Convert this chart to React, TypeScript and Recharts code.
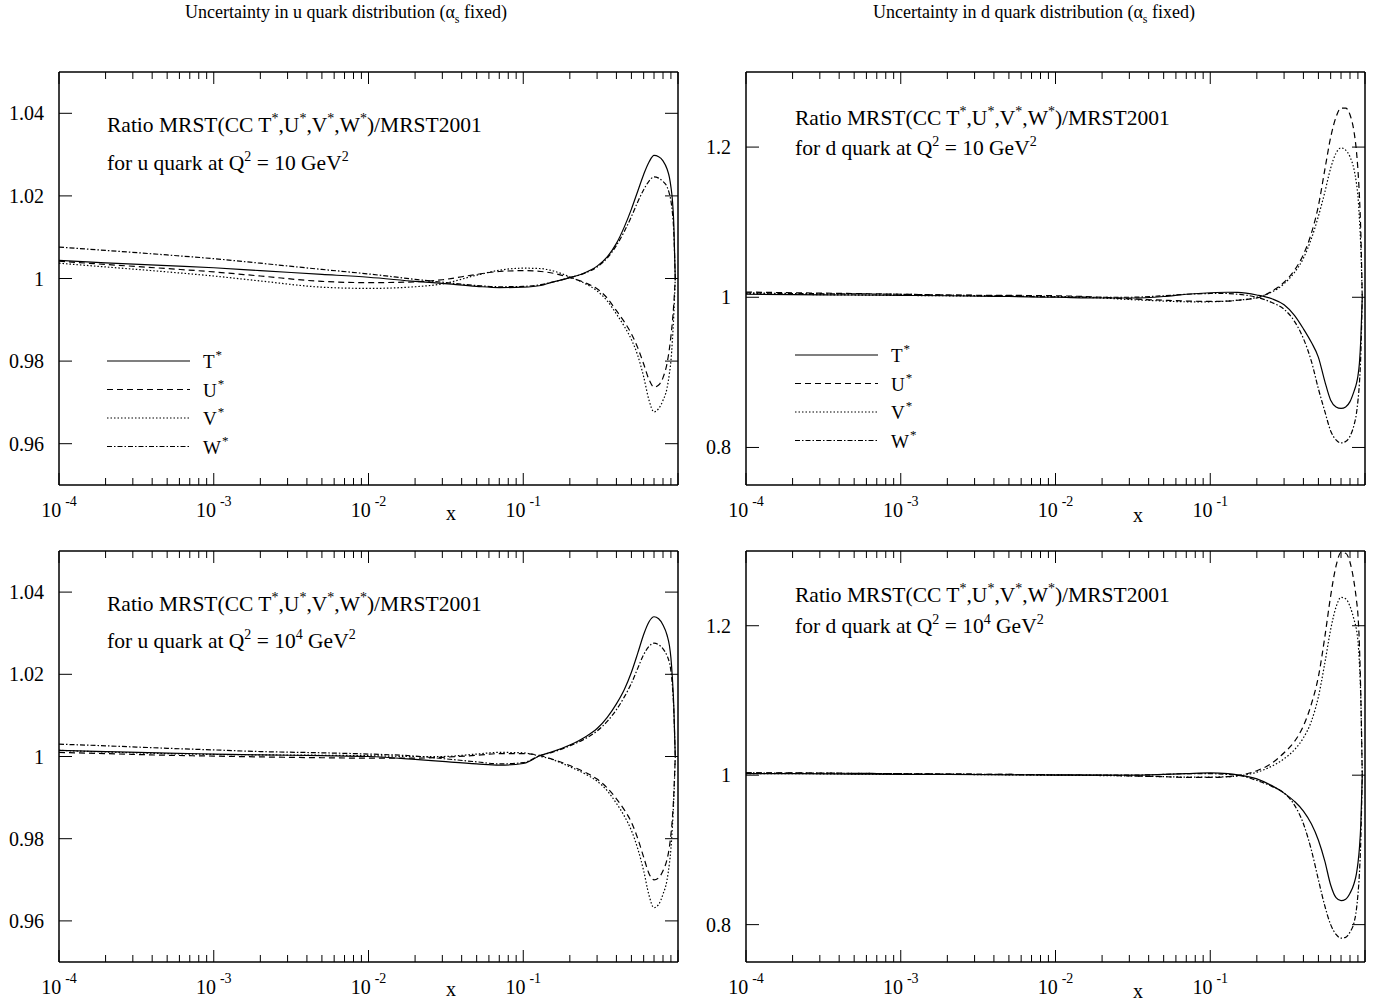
import React from "react";
import { LineChart, Line, XAxis, YAxis } from "recharts";

// x grid shared by every curve
const X = [
  0.0001, 0.0002, 0.0005, 0.001, 0.002, 0.005, 0.01, 0.02, 0.03, 0.05, 0.07,
  0.1, 0.13, 0.15, 0.2, 0.25, 0.3, 0.35, 0.4, 0.45, 0.5, 0.55, 0.6, 0.65, 0.7,
  0.75, 0.8, 0.85, 0.88, 0.9, 0.92, 0.94, 0.96,
];

// u quark, Q^2 = 10
const U10_T = [1.0044, 1.0038, 1.0031, 1.0026, 1.0019, 1.001, 1.0003, 0.9993, 0.9988, 0.9981, 0.9978, 0.9979, 0.9983, 0.999, 1.0002, 1.0014, 1.003, 1.0053, 1.0085, 1.0125, 1.0168, 1.0212, 1.0252, 1.0282, 1.0298, 1.0295, 1.0285, 1.0265, 1.0245, 1.0222, 1.019, 1.013, 1.0];
const U10_U = [1.0042, 1.0034, 1.0024, 1.0016, 1.0006, 0.9993, 0.999, 0.9992, 0.9997, 1.001, 1.0017, 1.0019, 1.0017, 1.0014, 1.0002, 0.999, 0.9975, 0.9952, 0.9922, 0.9895, 0.9866, 0.9832, 0.9793, 0.9755, 0.9737, 0.9742, 0.976, 0.9795, 0.983, 0.986, 0.9895, 0.994, 1.0];
const U10_V = [1.0037, 1.0028, 1.0016, 1.0006, 0.9994, 0.9979, 0.9976, 0.998, 0.9987, 1.0008, 1.002, 1.0025, 1.0024, 1.002, 1.0004, 0.9988, 0.997, 0.9945, 0.9914, 0.9884, 0.9852, 0.9813, 0.9762, 0.9705, 0.9677, 0.9685, 0.9705, 0.9735, 0.977, 0.98, 0.985, 0.9915, 1.0];
const U10_W = [1.0076, 1.0068, 1.0057, 1.0048, 1.0037, 1.0022, 1.0011, 0.9998, 0.9991, 0.9983, 0.998, 0.9981, 0.9985, 0.999, 1.0002, 1.0013, 1.0028, 1.005, 1.008, 1.0114, 1.015, 1.0186, 1.0215, 1.0236, 1.0246, 1.0243, 1.0235, 1.0222, 1.0205, 1.0188, 1.016, 1.011, 1.0];

// d quark, Q^2 = 10
const D10_T = [1.004, 1.0035, 1.003, 1.0025, 1.002, 1.001, 1.0, 0.999, 0.999, 1.001, 1.004, 1.006, 1.0067, 1.0065, 1.003, 0.998, 0.99, 0.976, 0.958, 0.94, 0.92, 0.888, 0.863, 0.854, 0.852, 0.854, 0.861, 0.875, 0.885, 0.895, 0.912, 0.945, 1.0];
const D10_U = [1.007, 1.006, 1.005, 1.004, 1.003, 1.0025, 1.002, 1.0, 0.998, 0.996, 0.995, 0.9945, 0.995, 0.996, 0.999, 1.008, 1.02, 1.036, 1.057, 1.085, 1.122, 1.17, 1.213, 1.24, 1.252, 1.252, 1.243, 1.22, 1.195, 1.17, 1.135, 1.085, 1.0];
const D10_V = [1.005, 1.004, 1.003, 1.0025, 1.002, 1.0015, 1.001, 0.999, 0.997, 0.995, 0.994, 0.994, 0.995, 0.996, 1.0, 1.007, 1.018, 1.033, 1.052, 1.078, 1.108, 1.14, 1.172, 1.192, 1.199, 1.196, 1.187, 1.17, 1.152, 1.135, 1.105, 1.065, 1.0];
const D10_W = [1.006, 1.005, 1.0045, 1.004, 1.003, 1.0015, 1.0005, 1.0, 1.0, 1.002, 1.004, 1.005, 1.005, 1.004, 1.0, 0.993, 0.984, 0.968, 0.945, 0.915, 0.878, 0.848, 0.822, 0.81, 0.806, 0.808, 0.815, 0.83, 0.845, 0.862, 0.885, 0.925, 1.0];

// u quark, Q^2 = 10^4
const U1E4_T = [1.0015, 1.0012, 1.0008, 1.0006, 1.0004, 1.0002, 1.0, 0.9993, 0.9988, 0.9982, 0.9979, 0.9983, 1.0003, 1.001, 1.0028, 1.0047, 1.0068, 1.0096, 1.0128, 1.0163, 1.0205, 1.0252, 1.0297, 1.0328, 1.034, 1.0335, 1.032, 1.0295, 1.027, 1.024, 1.019, 1.012, 1.0];
const U1E4_U = [1.001, 1.0007, 1.0003, 1.0001, 0.9999, 0.9997, 0.9996, 0.9996, 0.9998, 1.0003, 1.0007, 1.0007, 1.0002, 0.9995, 0.9978, 0.9962, 0.9945, 0.9923, 0.9897, 0.987, 0.984, 0.98, 0.9755, 0.9715, 0.97, 0.9705, 0.9722, 0.975, 0.978, 0.981, 0.985, 0.991, 1.0];
const U1E4_V = [1.0015, 1.0011, 1.0007, 1.0005, 1.0004, 1.0003, 1.0002, 1.0, 1.0, 1.0006, 1.001, 1.0009, 1.0, 0.9994, 0.9975, 0.9958, 0.994, 0.9916, 0.9886, 0.9855, 0.982, 0.9775, 0.9722, 0.9662, 0.9632, 0.964, 0.9665, 0.97, 0.974, 0.9775, 0.983, 0.99, 1.0];
const U1E4_W = [1.003, 1.0026, 1.002, 1.0016, 1.0012, 1.0009, 1.0006, 1.0001, 0.9995, 0.9987, 0.9982, 0.9985, 1.0003, 1.0009, 1.0026, 1.0043, 1.0062, 1.0086, 1.0114, 1.0145, 1.0178, 1.0215, 1.0248, 1.0268, 1.0276, 1.0272, 1.0262, 1.0245, 1.0228, 1.0208, 1.0172, 1.011, 1.0];

// d quark, Q^2 = 10^4
const D1E4_T = [1.002, 1.002, 1.0015, 1.001, 1.001, 1.0005, 1.0, 1.0, 1.0, 1.001, 1.002, 1.003, 1.002, 1.0005, 0.995, 0.986, 0.976, 0.965, 0.952, 0.935, 0.913, 0.885, 0.853, 0.836, 0.832, 0.834, 0.842, 0.855, 0.868, 0.882, 0.902, 0.935, 1.0];
const D1E4_U = [1.003, 1.003, 1.0025, 1.002, 1.0015, 1.001, 1.0005, 1.0, 0.999, 0.998, 0.997, 0.997, 0.998, 0.9995, 1.006, 1.016, 1.03, 1.045, 1.066, 1.095, 1.132, 1.185, 1.24, 1.28, 1.298, 1.297, 1.285, 1.258, 1.235, 1.215, 1.175, 1.105, 1.0];
const D1E4_V = [1.002, 1.002, 1.0015, 1.001, 1.001, 1.0005, 1.0, 0.9995, 0.999, 0.998, 0.9975, 0.9975, 0.998, 0.999, 1.004, 1.012, 1.022, 1.034, 1.05, 1.072, 1.105, 1.15, 1.195, 1.225, 1.238, 1.236, 1.226, 1.208, 1.195, 1.18, 1.15, 1.1, 1.0];
const D1E4_W = [1.003, 1.0028, 1.0025, 1.002, 1.0015, 1.001, 1.0005, 1.0, 1.0, 1.001, 1.002, 1.002, 1.001, 1.0, 0.993, 0.985, 0.976, 0.96, 0.935, 0.9, 0.86, 0.825, 0.8, 0.787, 0.782, 0.783, 0.79, 0.803, 0.82, 0.84, 0.868, 0.915, 1.0];

const DECADES = [1e-4, 1e-3, 1e-2, 1e-1];
const X_TICKS = [...DECADES.flatMap((d) => [1, 2, 3, 4, 5, 6, 7, 8, 9].map((m) => m * d)), 1];
const U_Y_TICKS = [0.96, 0.98, 1, 1.02, 1.04];
const D_Y_TICKS = [0.8, 1, 1.2];
const U_DOMAIN: [number, number] = [0.95, 1.05];
const D_DOMAIN: [number, number] = [0.75, 1.3];

const SERIES = [
  { key: "t", label: "T", dash: undefined },
  { key: "u", label: "U", dash: "6 4" },
  { key: "v", label: "V", dash: "1.5 2" },
  { key: "w", label: "W", dash: "5 2 1.5 2" },
];

const FONT = '"Liberation Serif", "Times New Roman", serif';
const MAJOR = 12;
const MINOR = 7;

const isMajor = (v: number) => {
  const l = Math.log10(v);
  return Math.abs(l - Math.round(l)) < 1e-6;
};

function BottomTick(props: any) {
  const { x, y, payload } = props;
  const v = payload.value;
  const major = isMajor(v);
  const exp = Math.round(Math.log10(v));
  return (
    <g>
      <line x1={x} y1={y} x2={x} y2={y - (major ? MAJOR : MINOR)} stroke="#000" />
      {major && exp < 0 && (
        <text x={x} y={y + 32} textAnchor="middle" fontSize={20} fontFamily={FONT} fill="#000">
          10
          <tspan dx={4} dy={-11} fontSize={14}>
            {exp}
          </tspan>
        </text>
      )}
    </g>
  );
}

function TopTick(props: any) {
  const { x, y, payload } = props;
  const major = isMajor(payload.value);
  return <line x1={x} y1={y} x2={x} y2={y + (major ? MAJOR : MINOR)} stroke="#000" />;
}

function LeftTick(props: any) {
  const { x, y, payload } = props;
  return (
    <g>
      <line x1={x} y1={y} x2={x + 13} y2={y} stroke="#000" />
      <text x={x - 15} y={y + 7} textAnchor="end" fontSize={20} fontFamily={FONT} fill="#000">
        {String(payload.value)}
      </text>
    </g>
  );
}

function RightTick(props: any) {
  const { x, y } = props;
  return <line x1={x} y1={y} x2={x - 13} y2={y} stroke="#000" />;
}

interface PanelProps {
  left: number;
  top: number;
  width: number;
  height: number;
  t: number[];
  u: number[];
  v: number[];
  w: number[];
  domain: [number, number];
  yTicks: number[];
}

function Panel({ left, top, width, height, t, u, v, w, domain, yTicks }: PanelProps) {
  const data = X.map((x, i) => ({ x, t: t[i], u: u[i], v: v[i], w: w[i] }));
  const axisCommon = {
    tickSize: 0,
    tickMargin: 0,
    tickLine: false,
    interval: 0 as const,
    allowDataOverflow: true,
    stroke: "#000",
    strokeWidth: 1.5,
  };
  return (
    <div style={{ position: "absolute", left: left - 60, top: top - 10 }}>
      <LineChart
        width={width + 80}
        height={height + 60}
        data={data}
        margin={{ top: 0, right: 10, bottom: 0, left: 0 }}
      >
        <XAxis
          xAxisId="b"
          dataKey="x"
          type="number"
          scale="log"
          domain={[1e-4, 1]}
          ticks={X_TICKS}
          height={50}
          tick={(p: any) => <BottomTick {...p} />}
          {...axisCommon}
        />
        <XAxis
          xAxisId="t"
          orientation="top"
          dataKey="x"
          type="number"
          scale="log"
          domain={[1e-4, 1]}
          ticks={X_TICKS}
          height={10}
          tick={(p: any) => <TopTick {...p} />}
          {...axisCommon}
        />
        <YAxis
          yAxisId="l"
          type="number"
          domain={domain}
          ticks={yTicks}
          width={60}
          tick={(p: any) => <LeftTick {...p} />}
          {...axisCommon}
        />
        <YAxis
          yAxisId="r"
          orientation="right"
          type="number"
          domain={domain}
          ticks={yTicks}
          width={10}
          tick={(p: any) => <RightTick {...p} />}
          {...axisCommon}
        />
        {SERIES.map((s) => (
          <Line
            key={s.key}
            xAxisId="b"
            yAxisId="l"
            type="monotone"
            dataKey={s.key}
            stroke="#000"
            strokeWidth={1.2}
            strokeDasharray={s.dash}
            dot={false}
            activeDot={false}
            isAnimationActive={false}
          />
        ))}
      </LineChart>
    </div>
  );
}

function Legend({ x, y }: { x: number; y: number }) {
  return (
    <g>
      {SERIES.map((s, i) => (
        <g key={s.key}>
          <line x1={x} x2={x + 83} y1={y + i * 28.5} y2={y + i * 28.5} stroke="#000" strokeWidth={1.2} strokeDasharray={s.dash} />
          <text x={x + 96} y={y + i * 28.5 + 7} fontSize={19} fontFamily={FONT}>
            {s.label}
            <tspan dx={1} dy={-9} fontSize={13}>*</tspan>
          </text>
        </g>
      ))}
    </g>
  );
}

function PanelText({ x, y, flavour, q2, gap }: { x: number; y: number; flavour: string; q2: string; gap: number }) {
  const sup = (s: string) => (
    <tspan dy={-9} fontSize={14}>{s}</tspan>
  );
  const base = (s: string) => <tspan dy={9}>{s}</tspan>;
  return (
    <g fontFamily={FONT} fontSize={21.5} fill="#000">
      <text x={x} y={y}>
        Ratio MRST(CC T{sup("*")}{base(",U")}{sup("*")}{base(",V")}{sup("*")}{base(",W")}{sup("*")}{base(")/MRST2001")}
      </text>
      <text x={x} y={y + gap}>
        for {flavour} quark at Q{sup("2")}{base(" = 10")}
        {q2 ? sup(q2) : null}
        {q2 ? base(" GeV") : <tspan>{" GeV"}</tspan>}
        {sup("2")}
      </text>
    </g>
  );
}

function Title({ x, flavour }: { x: number; flavour: string }) {
  return (
    <text x={x} y={18} textAnchor="middle" fontFamily={FONT} fontSize={18} fill="#000">
      Uncertainty in {flavour} quark distribution (α
      <tspan dy={5} fontSize={12}>s</tspan>
      <tspan dy={-5}> fixed)</tspan>
    </text>
  );
}

export default function App() {
  return (
    <div style={{ position: "absolute", left: 0, top: 0, width: 1380, height: 1002, background: "#fff" }}>
      <Panel left={59} top={72} width={619} height={413} t={U10_T} u={U10_U} v={U10_V} w={U10_W} domain={U_DOMAIN} yTicks={U_Y_TICKS} />
      <Panel left={746} top={72} width={619} height={413} t={D10_T} u={D10_U} v={D10_V} w={D10_W} domain={D_DOMAIN} yTicks={D_Y_TICKS} />
      <Panel left={59} top={551} width={619} height={411} t={U1E4_T} u={U1E4_U} v={U1E4_V} w={U1E4_W} domain={U_DOMAIN} yTicks={U_Y_TICKS} />
      <Panel left={746} top={551} width={619} height={411} t={D1E4_T} u={D1E4_U} v={D1E4_V} w={D1E4_W} domain={D_DOMAIN} yTicks={D_Y_TICKS} />
      <svg width={1380} height={1002} style={{ position: "absolute", left: 0, top: 0, pointerEvents: "none" }}>
        <Title x={346} flavour="u" />
        <Title x={1034} flavour="d" />
        <PanelText x={107} y={132} flavour="u" q2="" gap={38} />
        <PanelText x={795} y={125} flavour="d" q2="" gap={30} />
        <PanelText x={107} y={611} flavour="u" q2="4" gap={37} />
        <PanelText x={795} y={602} flavour="d" q2="4" gap={31} />
        <Legend x={107} y={361} />
        <Legend x={795} y={355} />
        <text x={446} y={520} fontFamily={FONT} fontSize={20}>x</text>
        <text x={1133} y={522} fontFamily={FONT} fontSize={20}>x</text>
        <text x={446} y={996} fontFamily={FONT} fontSize={20}>x</text>
        <text x={1133} y={998} fontFamily={FONT} fontSize={20}>x</text>
      </svg>
    </div>
  );
}
